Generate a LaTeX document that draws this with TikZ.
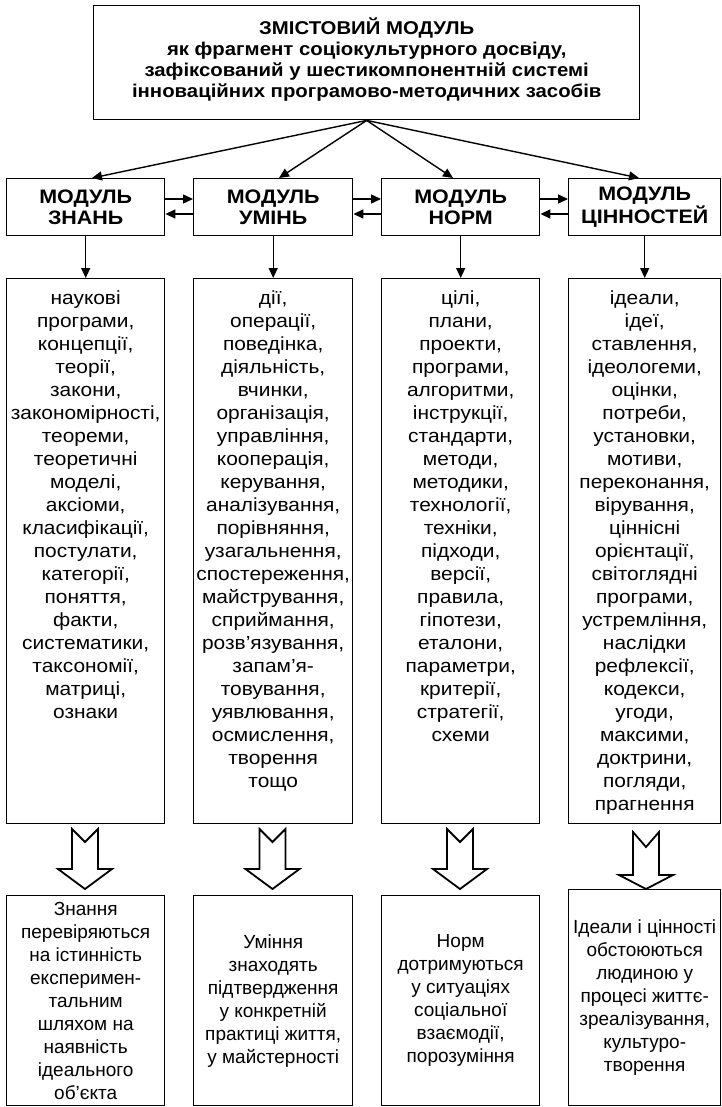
\documentclass[tikz,border=0pt]{standalone}
\usepackage{fontspec}
\setmainfont{Liberation Sans}
\newfontfamily\widefont{Liberation Sans}[FakeStretch=1.1]
\usetikzlibrary{arrows.meta,calc}
\tikzset{
  box/.style={draw, line width=1.4pt, inner sep=0pt, anchor=north west, align=center},
  hdr/.style={font=\widefont\bfseries\fontsize{19.5}{21}\selectfont},
  body/.style={font=\widefont\fontsize{19}{23}\selectfont, align=center, inner sep=0pt},
  foot/.style={font=\fontsize{19}{23}\selectfont, align=center, inner sep=0pt},
  arr/.style={line width=1.4pt, -{Triangle[length=10pt,width=9pt]}},
  hollow/.style={draw, line width=1.8pt, line join=miter},
}
\begin{document}
\begin{tikzpicture}[x=1pt,y=-1pt]
\useasboundingbox (0,0) rectangle (721,1107);
% top box
\node[box, minimum width=546pt, minimum height=114pt] (top) at (93,5) {};
\node[font=\widefont\bfseries\fontsize{18.5}{21}\selectfont, align=center, inner sep=0pt] (toptext) at ($(top.center)+(0,-3)$)
  {ЗМІСТОВИЙ МОДУЛЬ\\як фрагмент соціокультурного досвіду,\\зафіксований у шестикомпонентній системі\\інноваційних програмово-методичних засобів};
% module boxes
\node[box, hdr, minimum width=158pt, minimum height=57pt] (m1) at (6,178) {МОДУЛЬ\\ЗНАНЬ};
\node[box, hdr, minimum width=159pt, minimum height=57pt] (m2) at (193,178) {МОДУЛЬ\\УМІНЬ};
\node[box, hdr, minimum width=158pt, minimum height=57pt] (m3) at (381,178) {МОДУЛЬ\\НОРМ};
\node[box, hdr, minimum width=152pt, minimum height=57pt] (m4) at (568,178) {МОДУЛЬ\\ЦІННОСТЕЙ};
% diagonal arrows
\coordinate (e1) at (92,178);
\coordinate (e2) at (279,178);
\coordinate (e3) at (453,178);
\coordinate (e4) at (639,178);
\foreach \e in {e1,e2,e3,e4} \draw[arr] (top.south) -- (\e);
% horizontal arrows
\foreach \a/\b in {m1/m2, m2/m3, m3/m4} {
  \draw[arr] ($(\a.north east)+(0,21)$) -- ($(\b.north west)+(0,21)$);
  \draw[arr] ($(\b.north west)+(0,36)$) -- ($(\a.north east)+(0,36)$);
}
% column boxes
\node[box, minimum width=158pt, minimum height=545pt] (c1) at (6,278) {};
\node[box, minimum width=159pt, minimum height=545pt] (c2) at (193,278) {};
\node[box, minimum width=158pt, minimum height=545pt] (c3) at (381,278) {};
\node[box, minimum width=152pt, minimum height=545pt] (c4) at (568,278) {};
\foreach \i in {1,2,3,4} \draw[arr] (m\i.south) -- (c\i.north);
% column texts
\node[body, anchor=north] (t1) at ($(c1.north)+(0,10)$) {\strut наукові\\програми,\\концепції,\\теорії,\\закони,\\закономірності,\\теореми,\\теоретичні\\моделі,\\аксіоми,\\класифікації,\\постулати,\\категорії,\\поняття,\\факти,\\систематики,\\таксономії,\\матриці,\\ознаки};
\node[body, anchor=north] (t2) at ($(c2.north)+(0,10)$) {\strut дії,\\операції,\\поведінка,\\діяльність,\\вчинки,\\організація,\\управління,\\кооперація,\\керування,\\аналізування,\\порівняння,\\узагальнення,\\спостереження,\\майстрування,\\сприймання,\\розв’язування,\\запам’я-\\товування,\\уявлювання,\\осмислення,\\творення\\тощо};
\node[body, anchor=north] (t3) at ($(c3.north)+(0,10)$) {\strut цілі,\\плани,\\проекти,\\програми,\\алгоритми,\\інструкції,\\стандарти,\\методи,\\методики,\\технології,\\техніки,\\підходи,\\версії,\\правила,\\гіпотези,\\еталони,\\параметри,\\критерії,\\стратегії,\\схеми};
\node[body, anchor=north] (t4) at ($(c4.north)+(0,10)$) {\strut ідеали,\\ідеї,\\ставлення,\\ідеологеми,\\оцінки,\\потреби,\\установки,\\мотиви,\\переконання,\\вірування,\\ціннісні\\орієнтації,\\світоглядні\\програми,\\устремління,\\наслідки\\рефлексії,\\кодекси,\\угоди,\\максими,\\доктрини,\\погляди,\\прагнення};
% hollow arrows
\foreach \cx/\ta/\tn/\tw/\tt in {85/829/842/869/889, 272.5/829/842/869/889, 460/829/842/869/889, 646/832/847/875/889}
  \draw[hollow] (\cx-13,\ta) -- (\cx,\tn) -- (\cx+13,\ta) -- (\cx+13,\tw) -- (\cx+27,\tw) -- (\cx,\tt) -- (\cx-27,\tw) -- (\cx-13,\tw) -- cycle;
% bottom boxes
\node[box, foot, minimum width=158pt, minimum height=210pt] (b1) at (6,895) {Знання\\перевіряються\\на істинність\\експеримен-\\тальним\\шляхом на\\наявність\\ідеального\\об’єкта};
\node[box, foot, minimum width=159pt, minimum height=210pt] (b2) at (193,895) {Уміння\\знаходять\\підтвердження\\у конкретній\\практиці життя,\\у майстерності};
\node[box, foot, minimum width=158pt, minimum height=210pt] (b3) at (381,895) {Норм\\дотримуються\\у ситуаціях\\соціальної\\взаємодії,\\порозуміння};
\node[box, foot, minimum width=152pt, minimum height=216pt] (b4) at (568,889) {Ідеали і цінності\\обстоюються\\людиною у\\процесі життє-\\зреалізування,\\культуро-\\творення};
\end{tikzpicture}
\end{document}
